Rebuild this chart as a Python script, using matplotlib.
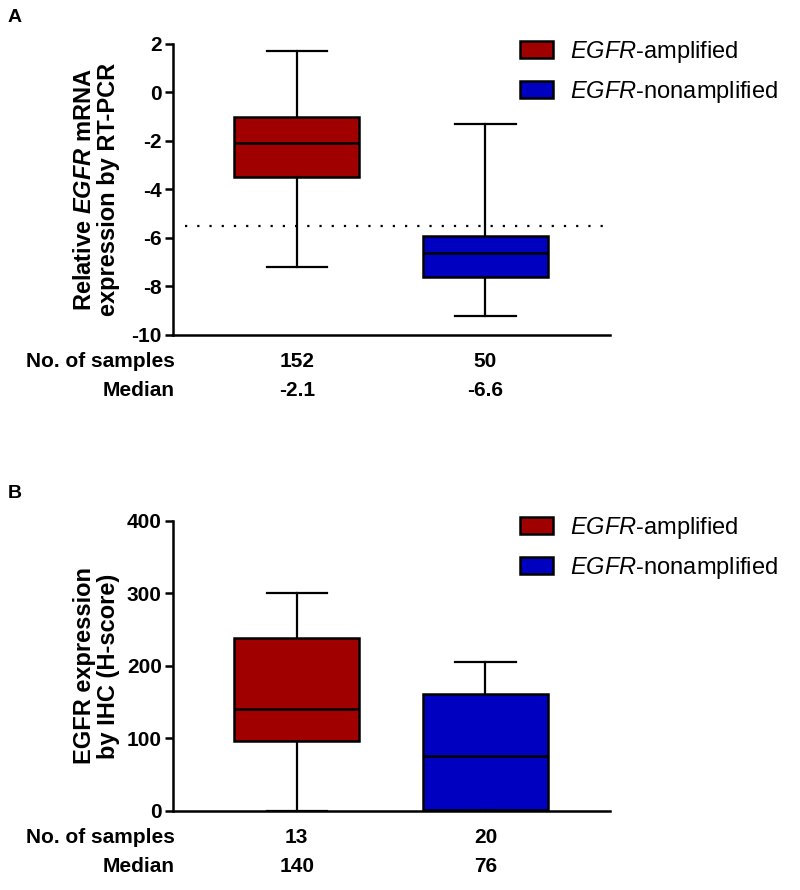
import matplotlib
matplotlib.use('Agg')
import matplotlib.pyplot as plt
from matplotlib.patches import Patch

plt.rcParams['font.family'] = ['Liberation Sans', 'DejaVu Sans']
plt.rcParams['mathtext.fontset'] = 'custom'
plt.rcParams['mathtext.it'] = 'Liberation Sans:italic'
plt.rcParams['mathtext.rm'] = 'Liberation Sans'
plt.rcParams['mathtext.bf'] = 'Liberation Sans:bold'
plt.rcParams['mathtext.bfit'] = 'Liberation Sans:italic:bold'

groups = ['EGFR-amplified', 'EGFR-nonamplified']
colors = ['#a00000', '#0000c0']

# panel A: relative EGFR mRNA (RT-PCR)
a_whislo = [-7.2, -9.2]
a_q1 = [-3.5, -7.6]
a_med = [-2.1, -6.6]
a_q3 = [-1.0, -5.9]
a_whishi = [1.7, -1.3]
a_n = ['152', '50']
a_median_lbl = ['-2.1', '-6.6']
a_cutoff = -5.5

# panel B: EGFR IHC H-score
b_whislo = [0, 0]
b_q1 = [97, 2]
b_med = [140, 76]
b_q3 = [239, 161]
b_whishi = [300, 205]
b_n = ['13', '20']
b_median_lbl = ['140', '76']

fig = plt.figure(figsize=(8, 8.9), dpi=100)
axA = fig.add_axes([0.216, 0.6236, 0.546, 0.327])
axB = fig.add_axes([0.216, 0.0888, 0.546, 0.326])

positions = [1, 2]
fs = 15


def draw_panel(ax, whislo, q1, med, q3, whishi, nlab, medlab):
    stats = []
    for i in range(2):
        stats.append(dict(whislo=whislo[i], q1=q1[i], med=med[i],
                          q3=q3[i], whishi=whishi[i], fliers=[]))
    bp = ax.bxp(stats, positions=positions, widths=0.66, patch_artist=True,
                showfliers=False,
                boxprops=dict(linewidth=1.8, edgecolor='black'),
                medianprops=dict(color='black', linewidth=1.8),
                whiskerprops=dict(color='black', linewidth=1.6),
                capprops=dict(color='black', linewidth=1.6),
                capwidths=0.32)
    for patch, c in zip(bp['boxes'], colors):
        patch.set_facecolor(c)
    ax.set_xlim(0.343, 2.658)
    ax.set_xticks([])
    for s in ['top', 'right']:
        ax.spines[s].set_visible(False)
    for s in ['left', 'bottom']:
        ax.spines[s].set_linewidth(1.8)
    ax.tick_params(axis='y', length=6, width=1.8, labelsize=fs, pad=2)
    tr = ax.get_xaxis_transform()
    ax.text(0.005, -0.092, 'No. of samples', transform=ax.transAxes,
            ha='right', va='center', fontsize=fs, fontweight='bold')
    ax.text(0.005, -0.19, 'Median', transform=ax.transAxes,
            ha='right', va='center', fontsize=fs, fontweight='bold')
    for p, n, m in zip(positions, nlab, medlab):
        ax.text(p, -0.092, n, transform=tr, ha='center', va='center',
                fontsize=fs, fontweight='bold')
        ax.text(p, -0.19, m, transform=tr, ha='center', va='center',
                fontsize=fs, fontweight='bold')


draw_panel(axA, a_whislo, a_q1, a_med, a_q3, a_whishi, a_n, a_median_lbl)
axA.set_ylim(-10, 2)
axA.set_yticks([-10, -8, -6, -4, -2, 0, 2])
axA.set_yticklabels([str(v) for v in [-10, -8, -6, -4, -2, 0, 2]], fontweight='bold')
axA.axhline(a_cutoff, xmin=0.027, xmax=1.0, color='black', linewidth=1.6,
            linestyle=(0, (1, 4.5)))
axA.set_ylabel('Relative $\\mathbfit{EGFR}$ mRNA\nexpression by RT-PCR',
               fontsize=17, fontweight='bold', linespacing=1.05)
axA.yaxis.set_label_coords(-0.12, 0.5)

draw_panel(axB, b_whislo, b_q1, b_med, b_q3, b_whishi, b_n, b_median_lbl)
axB.set_ylim(0, 400)
axB.set_yticks([0, 100, 200, 300, 400])
axB.set_yticklabels([str(v) for v in [0, 100, 200, 300, 400]], fontweight='bold')
axB.set_ylabel('EGFR expression\nby IHC (H-score)',
               fontsize=17, fontweight='bold', linespacing=1.05)
axB.yaxis.set_label_coords(-0.12, 0.5)

handles = [Patch(facecolor=c, edgecolor='black', linewidth=1.8) for c in colors]
labels = ['$\\mathit{EGFR}$-amplified', '$\\mathit{EGFR}$-nonamplified']
for ytop in [1 - 39 / 890, 1 - 515 / 890]:
    fig.legend(handles, labels, loc='upper left', bbox_to_anchor=(0.65, ytop),
               frameon=False, fontsize=17, handlelength=1.4, handleheight=0.72,
               handletextpad=0.72, labelspacing=0.6, borderpad=0,
               borderaxespad=0)

fig.text(0.01, 1 - 17 / 890, 'A', fontsize=14, fontweight='bold', va='center')
fig.text(0.01, 1 - 493 / 890, 'B', fontsize=14, fontweight='bold', va='center')

fig.savefig('out.png', dpi=100)
